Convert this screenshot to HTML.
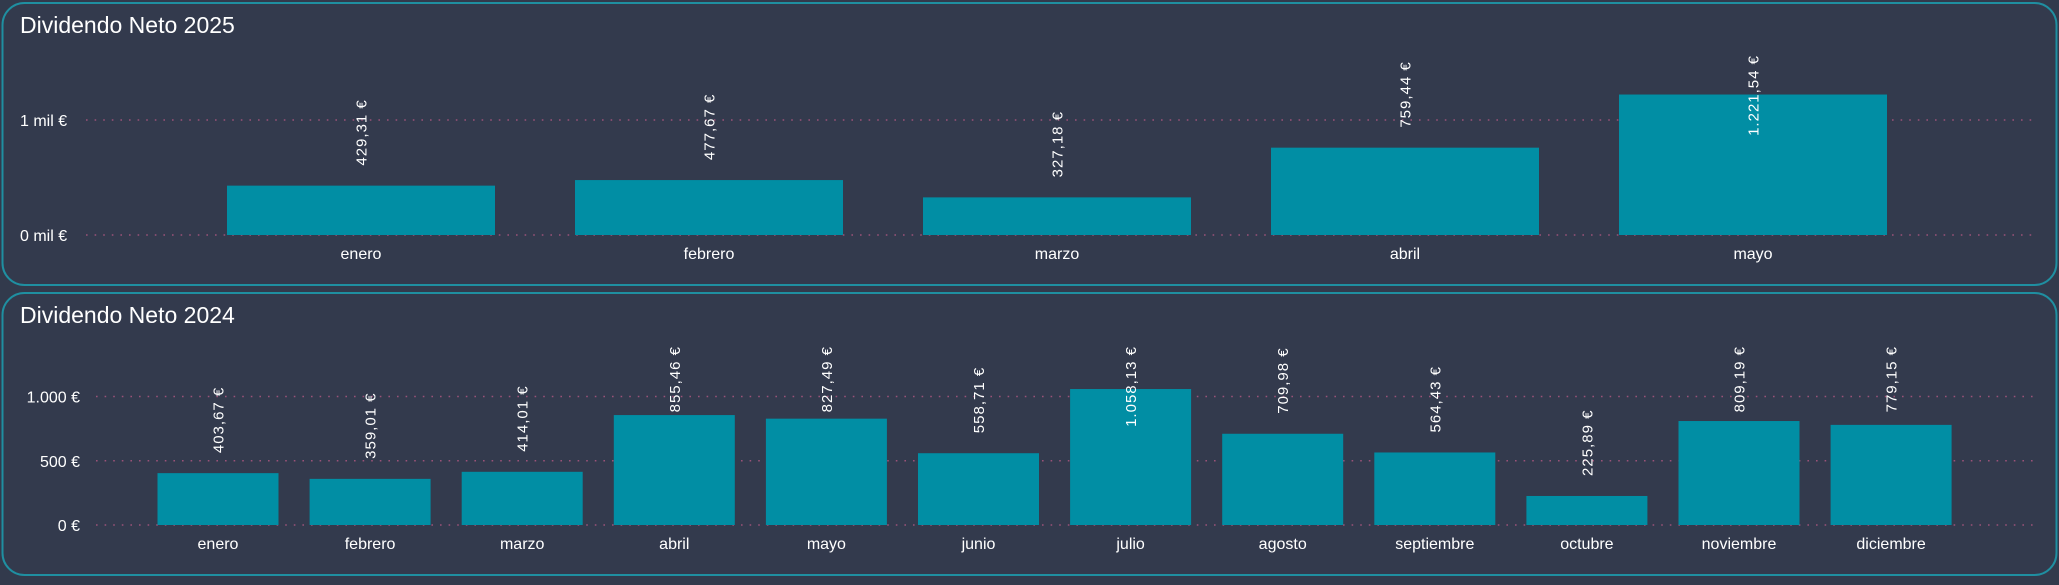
<!DOCTYPE html>
<html><head><meta charset="utf-8">
<style>
html,body{margin:0;padding:0;background:#323a4c;}
body{width:2059px;height:580px;overflow:hidden;font-family:"Liberation Sans",sans-serif;}
svg text{font-family:"Liberation Sans",sans-serif;fill:#fff;}
</style></head>
<body>
<svg id="chart" width="2059" height="580" xmlns="http://www.w3.org/2000/svg">
<rect x="2.5" y="3" width="2054" height="282" rx="22" fill="#333a4d" stroke="#1f8fa1" stroke-width="2"/>
<rect x="2.5" y="293" width="2054" height="282" rx="22" fill="#333a4d" stroke="#1f8fa1" stroke-width="2"/>
<text x="20" y="33" font-size="23">Dividendo Neto 2025</text>
<text x="20" y="323" font-size="23">Dividendo Neto 2024</text>
<g id="g25"></g><g id="g24"></g>
</svg>
<script>
const cats2025 = ["enero","febrero","marzo","abril","mayo"];
const vals2025 = [429.31,477.67,327.18,759.44,1221.54];
const labels2025 = ["429,31 €","477,67 €","327,18 €","759,44 €","1.221,54 €"];
const ticks2025 = [0,1000];
const tickLabels2025 = ["0 mil €","1 mil €"];

const cats2024 = ["enero","febrero","marzo","abril","mayo","junio","julio","agosto","septiembre","octubre","noviembre","diciembre"];
const vals2024 = [403.67,359.01,414.01,855.46,827.49,558.71,1058.13,709.98,564.43,225.89,809.19,779.15];
const labels2024 = ["403,67 €","359,01 €","414,01 €","855,46 €","827,49 €","558,71 €","1.058,13 €","709,98 €","564,43 €","225,89 €","809,19 €","779,15 €"];
const ticks2024 = [0,500,1000];
const tickLabels2024 = ["0 €","500 €","1.000 €"];

const NS="http://www.w3.org/2000/svg";
function mk(tag,attrs,parent){const e=document.createElementNS(NS,tag);for(const k in attrs)e.setAttribute(k,attrs[k]);parent.appendChild(e);return e;}

function draw(g,cats,vals,labels,ticks,tickLabels,cfg){
  const y=v=>cfg.y0-v*cfg.k;
  const x=i=>cfg.c0+i*cfg.step;
  ticks.forEach((t,i)=>{
    const ln=mk('line',{x1:cfg.gx0,x2:cfg.gx1,y1:y(t),y2:y(t),stroke:'#9a5278','stroke-width':1.6,'stroke-dasharray':'1.6 7'},g);
    
    
    const tx=mk('text',{x:cfg.tx,y:y(t)+6,'font-size':16,'text-anchor':cfg.anchor},g);
    
    
    tx.textContent=tickLabels[i];
  });
  cats.forEach((c,i)=>{
    const top=y(vals[i]);
    const r=mk('rect',{x:x(i)-cfg.w/2,y:top,width:cfg.w,height:cfg.y0-top,fill:'#018ea4'},g);
    
    
    const cl=mk('text',{x:x(i),y:cfg.cy,'font-size':16,'text-anchor':'middle'},g);
    
    
    cl.textContent=c;
    const vl=mk('text',{'font-size':15,'letter-spacing':'1'},g);
    
    
    vl.textContent=labels[i];
    const len=vl.getComputedTextLength();
    const tTop=Math.max(cfg.plotTop, top-20-len);
    const bottom=tTop+len;
    vl.setAttribute('transform','translate('+(x(i)+5.5)+','+bottom+') rotate(-90)');
  });
}
draw(document.getElementById('g25'),cats2025,vals2025,labels2025,ticks2025,tickLabels2025,
  {y0:235,k:0.115,c0:361,step:348,w:268,gx0:86,gx1:2036,tx:20,anchor:'start',cy:259,plotTop:55});
draw(document.getElementById('g24'),cats2024,vals2024,labels2024,ticks2024,tickLabels2024,
  {y0:525,k:0.1285,c0:218,step:152.1,w:121,gx0:96,gx1:2036,tx:80,anchor:'end',cy:549,plotTop:346});
</script>
</body></html>
